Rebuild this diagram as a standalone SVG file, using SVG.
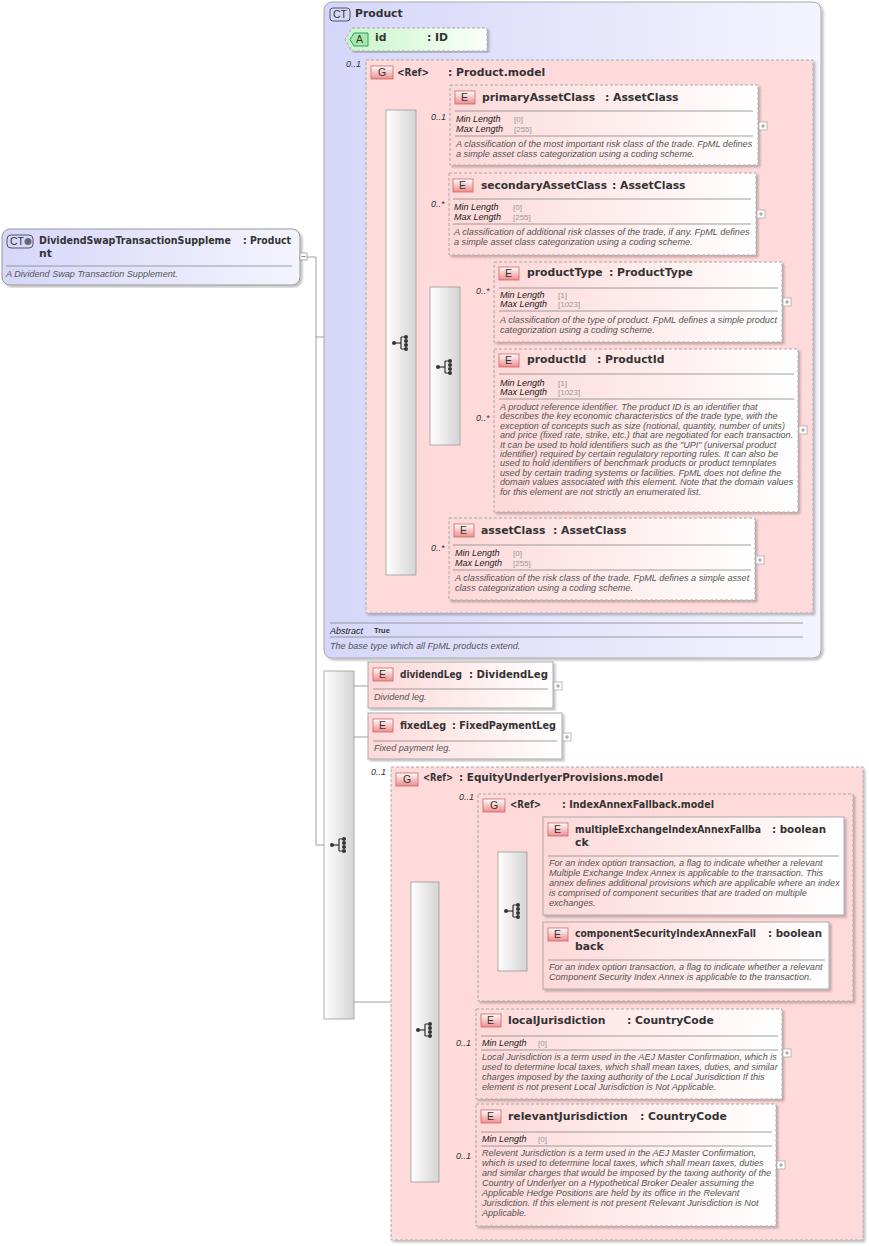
<svg xmlns="http://www.w3.org/2000/svg" width="869" height="1246" viewBox="0 0 869 1246">
<defs>
<linearGradient id="gE" x1="0" y1="0" x2="1" y2="0"><stop offset="0" stop-color="#fdd8d8"/><stop offset="1" stop-color="#fff"/></linearGradient>
<linearGradient id="gA" x1="0" y1="0" x2="1" y2="0"><stop offset="0" stop-color="#c8f5c8"/><stop offset="1" stop-color="#fafffa"/></linearGradient>
<linearGradient id="gCT" x1="0" y1="0" x2="1" y2="0"><stop offset="0" stop-color="#d6d6fa"/><stop offset="1" stop-color="#f4f4fe"/></linearGradient>
<linearGradient id="gS" x1="0" y1="0" x2="1" y2="0"><stop offset="0" stop-color="#fff"/><stop offset="1" stop-color="#d4d4d4"/></linearGradient>
<linearGradient id="gB" x1="0" y1="0" x2="0" y2="1"><stop offset="0" stop-color="#fff"/><stop offset="1" stop-color="#f08c8c"/></linearGradient>
<filter id="sh" x="-5%" y="-5%" width="110%" height="110%"><feDropShadow dx="2" dy="2" stdDeviation="1" flood-color="#000" flood-opacity="0.25"/></filter>
<g id="seqIcon"><line x1="-7" y1="0" x2="0" y2="0" stroke="#333" stroke-width="1.2"/><line x1="0" y1="-6" x2="0" y2="6" stroke="#333" stroke-width="1.2"/><line x1="0" y1="-6" x2="5" y2="-6" stroke="#333"/><line x1="0" y1="6" x2="5" y2="6" stroke="#333"/><circle cx="-7" cy="0" r="2" fill="#333"/><circle cx="5" cy="-6" r="2" fill="#333"/><circle cx="5" cy="-2" r="2" fill="#333"/><circle cx="5" cy="2" r="2" fill="#333"/><circle cx="5" cy="6" r="2" fill="#333"/></g>
<g id="plus"><rect x="0" y="-4" width="8" height="8" fill="#fff" stroke="#aaa" stroke-width="0.8"/><line x1="2" y1="0" x2="6" y2="0" stroke="#999"/><line x1="4" y1="-2" x2="4" y2="2" stroke="#999"/></g>
</defs>
<style>
text{font-family:"Liberation Sans",Arial,sans-serif;fill:#333}
.t{font-family:"DejaVu Sans",Verdana,sans-serif;font-size:10.8px;font-weight:bold}
.d{font-size:9.1px;font-style:italic;fill:#555}
.k{font-size:9px;font-style:italic;fill:#222}
.v{font-size:8px;fill:#999}
.m{font-size:9px;font-style:italic;fill:#333}
.b{font-size:10.5px;fill:#333}
.el{fill:url(#gE);stroke:#aaa;stroke-dasharray:3,2;filter:url(#sh)}
.els{fill:url(#gE);stroke:#aaa;filter:url(#sh)}
.grp{fill:#ffdada;stroke:#aaa;stroke-dasharray:3,2;filter:url(#sh)}
.seq{fill:url(#gS);stroke:#999;stroke-width:0.8}
.sep{stroke:#888;stroke-width:0.8}
.bdg{fill:url(#gB);stroke:#c66;stroke-width:0.8}
.c{stroke:#888;stroke-width:0.8;fill:none}
</style>

<g id="connectors">
<path class="c" d="M307 257H316V845H324"/>
<path class="c" d="M316 337H386M334 337V40H345"/>
<path class="c" d="M416 126H450M416 214H449M416 367H430M416 560H449"/>
<path class="c" d="M460 302H494M460 430H494"/>
<path class="c" d="M354 686H368M354 737H368M354 1002H411"/>
<path class="c" d="M439 898H498M527 867H543M527 956H543"/>
<path class="c" d="M439 1053H476M439 1168H476"/>
</g>

<g id="main">
<rect x="2" y="229" width="298" height="56" rx="8" fill="url(#gCT)" stroke="#999" filter="url(#sh)"/>
<rect x="7" y="235" width="26" height="13" rx="4" fill="#d8d8f8" stroke="#556"/>
<text x="10" y="245" class="b">CT</text><circle cx="28" cy="241.5" r="3.5" fill="#667"/>
<text x="39" y="244" class="t" textLength="192" lengthAdjust="spacingAndGlyphs">DividendSwapTransactionSuppleme</text>
<text x="243" y="244" class="t" textLength="48" lengthAdjust="spacingAndGlyphs">: Product</text>
<text x="39" y="257" class="t">nt</text>
<line x1="6" y1="266" x2="292" y2="266" class="sep"/>
<text x="6" y="277" class="d">A Dividend Swap Transaction Supplement.</text>
<rect x="300" y="253" width="7" height="7" fill="#fff" stroke="#999" stroke-width="0.8"/><line x1="301.5" y1="256.5" x2="305.5" y2="256.5" stroke="#888"/>
</g>

<g id="product">
<rect x="324" y="2" width="497" height="656" rx="8" fill="url(#gCT)" stroke="#aaa" filter="url(#sh)"/>
<rect x="330" y="8" width="20" height="13" rx="3" fill="#d8d8f8" stroke="#556"/>
<text x="333" y="18" class="b">CT</text>
<text x="355" y="17" class="t">Product</text>
<line x1="330" y1="623" x2="803" y2="623" class="sep"/>
<text x="330" y="634" class="k">Abstract</text><text x="374" y="633" style="font-size:7.5px;font-weight:bold">True</text>
<line x1="330" y1="637" x2="803" y2="637" class="sep"/>
<text x="330" y="649" class="d">The base type which all FpML products extend.</text>
</g>

<g id="attr-id">
<path d="M352 28H487V51H352L345 39.5Z" fill="url(#gA)" stroke="#aaa" stroke-dasharray="3,2" filter="url(#sh)"/>
<path d="M354 33H368V46H354L350 39.5Z" fill="#a8e8a8" stroke="#396"/>
<text x="356" y="43" class="b">A</text>
<text x="375" y="41" class="t">id</text><text x="427" y="41" class="t">: ID</text>
</g>

<text x="346" y="67" class="m">0..1</text>
<g id="product-model">
<rect x="366" y="60" width="447" height="553" class="grp"/>
<rect x="371" y="66" width="22" height="13" class="bdg"/><text x="378" y="76" class="b">G</text>
<text x="397" y="76" class="t" textLength="32" lengthAdjust="spacingAndGlyphs">&lt;Ref&gt;</text><text x="448" y="76" class="t">: Product.model</text>
</g>

<g id="seq1"><rect x="386" y="110" width="30" height="465" class="seq"/><use href="#seqIcon" x="401" y="343"/></g>
<g id="seq2"><rect x="430" y="287" width="30" height="158" class="seq"/><use href="#seqIcon" x="445" y="367"/></g>

<text x="431" y="120" class="m">0..1</text>
<g id="primaryAssetClass">
<rect x="450" y="85" width="308" height="80" class="el"/>
<rect x="455" y="91" width="20" height="13" class="bdg"/><text x="461" y="101" class="b">E</text>
<text x="482" y="101" class="t">primaryAssetClass</text><text x="605" y="101" class="t">: AssetClass</text>
<line x1="455" y1="111" x2="753" y2="111" class="sep"/>
<text x="456" y="122" class="k">Min Length</text><text x="514" y="122" class="v">[0]</text>
<text x="456" y="132" class="k">Max Length</text><text x="514" y="132" class="v">[255]</text>
<line x1="455" y1="136" x2="753" y2="136" class="sep"/>
<text x="456" y="147" class="d">A classification of the most important risk class of the trade. FpML defines</text>
<text x="456" y="157" class="d">a simple asset class categorization using a coding scheme.</text>
<use href="#plus" x="759" y="126"/>
</g>

<text x="431" y="207" class="m">0..*</text>
<g id="secondaryAssetClass">
<rect x="449" y="173" width="307" height="82" class="el"/>
<rect x="453" y="179" width="20" height="13" class="bdg"/><text x="459" y="189" class="b">E</text>
<text x="481" y="189" class="t" textLength="126" lengthAdjust="spacingAndGlyphs">secondaryAssetClass</text><text x="612" y="189" class="t">: AssetClass</text>
<line x1="453" y1="199" x2="751" y2="199" class="sep"/>
<text x="454" y="210" class="k">Min Length</text><text x="513" y="210" class="v">[0]</text>
<text x="454" y="220" class="k">Max Length</text><text x="513" y="220" class="v">[255]</text>
<line x1="453" y1="224" x2="751" y2="224" class="sep"/>
<text x="454" y="235" class="d">A classification of additional risk classes of the trade, if any. FpML defines</text>
<text x="454" y="245" class="d">a simple asset class categorization using a coding scheme.</text>
<use href="#plus" x="757" y="214"/>
</g>

<text x="476" y="294" class="m">0..*</text>
<g id="productType">
<rect x="494" y="262" width="288" height="80" class="el"/>
<rect x="499" y="267" width="20" height="13" class="bdg"/><text x="505" y="277" class="b">E</text>
<text x="527" y="276" class="t">productType</text><text x="609" y="276" class="t">: ProductType</text>
<line x1="499" y1="288" x2="778" y2="288" class="sep"/>
<text x="500" y="298" class="k">Min Length</text><text x="558" y="298" class="v">[1]</text>
<text x="500" y="307" class="k">Max Length</text><text x="558" y="307" class="v">[1023]</text>
<line x1="499" y1="311" x2="778" y2="311" class="sep"/>
<text x="500" y="323" class="d">A classification of the type of product. FpML defines a simple product</text>
<text x="500" y="333" class="d">categorization using a coding scheme.</text>
<use href="#plus" x="783" y="302"/>
</g>

<text x="476" y="421" class="m">0..*</text>
<g id="productId">
<rect x="494" y="349" width="304" height="163" class="el"/>
<rect x="499" y="354" width="20" height="13" class="bdg"/><text x="505" y="364" class="b">E</text>
<text x="527" y="363" class="t">productId</text><text x="597" y="363" class="t">: ProductId</text>
<line x1="499" y1="374" x2="794" y2="374" class="sep"/>
<text x="500" y="386" class="k">Min Length</text><text x="558" y="386" class="v">[1]</text>
<text x="500" y="395" class="k">Max Length</text><text x="558" y="395" class="v">[1023]</text>
<line x1="499" y1="399" x2="794" y2="399" class="sep"/>
<text class="d"><tspan x="500" y="410">A product reference identifier. The product ID is an identifier that</tspan><tspan x="500" y="419.4">describes the key economic characteristics of the trade type, with the</tspan><tspan x="500" y="428.8">exception of concepts such as size (notional, quantity, number of units)</tspan><tspan x="500" y="438.2">and price (fixed rate, strike, etc.) that are negotiated for each transaction.</tspan><tspan x="500" y="447.6">It can be used to hold identifiers such as the "UPI" (universal product</tspan><tspan x="500" y="457">identifier) required by certain regulatory reporting rules. It can also be</tspan><tspan x="500" y="466.4">used to hold identifiers of benchmark products or product temnplates</tspan><tspan x="500" y="475.8">used by certain trading systems or facilities. FpML does not define the</tspan><tspan x="500" y="485.2">domain values associated with this element. Note that the domain values</tspan><tspan x="500" y="494.6">for this element are not strictly an enumerated list.</tspan></text>
<use href="#plus" x="799" y="430"/>
</g>

<text x="431" y="551" class="m">0..*</text>
<g id="assetClass">
<rect x="449" y="518" width="306" height="82" class="el"/>
<rect x="454" y="524" width="20" height="13" class="bdg"/><text x="460" y="534" class="b">E</text>
<text x="481" y="534" class="t">assetClass</text><text x="553" y="534" class="t">: AssetClass</text>
<line x1="453" y1="545" x2="751" y2="545" class="sep"/>
<text x="455" y="556" class="k">Min Length</text><text x="513" y="556" class="v">[0]</text>
<text x="455" y="566" class="k">Max Length</text><text x="513" y="566" class="v">[255]</text>
<line x1="453" y1="570" x2="751" y2="570" class="sep"/>
<text x="455" y="581" class="d">A classification of the risk class of the trade. FpML defines a simple asset</text>
<text x="455" y="591" class="d">class categorization using a coding scheme.</text>
<use href="#plus" x="756" y="560"/>
</g>

<g id="seq3"><rect x="324" y="671" width="30" height="348" class="seq"/><use href="#seqIcon" x="339" y="845"/></g>

<g id="dividendLeg">
<rect x="368" y="662" width="185" height="46" class="els"/>
<rect x="373" y="668" width="20" height="13" class="bdg"/><text x="379" y="678" class="b">E</text>
<text x="400" y="678" class="t" textLength="62" lengthAdjust="spacingAndGlyphs">dividendLeg</text><text x="469" y="678" class="t" textLength="79" lengthAdjust="spacingAndGlyphs">: DividendLeg</text>
<line x1="373" y1="689" x2="548" y2="689" class="sep"/>
<text x="374" y="700" class="d">Dividend leg.</text>
<use href="#plus" x="554" y="686"/>
</g>

<g id="fixedLeg">
<rect x="368" y="713" width="194" height="46" class="els"/>
<rect x="373" y="719" width="20" height="13" class="bdg"/><text x="379" y="729" class="b">E</text>
<text x="400" y="729" class="t" textLength="46" lengthAdjust="spacingAndGlyphs">fixedLeg</text><text x="452" y="729" class="t" textLength="104" lengthAdjust="spacingAndGlyphs">: FixedPaymentLeg</text>
<line x1="373" y1="741" x2="557" y2="741" class="sep"/>
<text x="374" y="751" class="d">Fixed payment leg.</text>
<use href="#plus" x="563" y="737"/>
</g>

<text x="371" y="775" class="m">0..1</text>
<g id="equity-model">
<rect x="391" y="767" width="472" height="473" class="grp"/>
<rect x="396" y="773" width="22" height="13" class="bdg"/><text x="403" y="783" class="b">G</text>
<text x="423" y="781" class="t" textLength="30" lengthAdjust="spacingAndGlyphs">&lt;Ref&gt;</text><text x="459" y="781" class="t" textLength="204" lengthAdjust="spacingAndGlyphs">: EquityUnderlyerProvisions.model</text>
</g>

<g id="seq4"><rect x="411" y="882" width="28" height="300" class="seq"/><use href="#seqIcon" x="425" y="1030"/></g>

<text x="459" y="800" class="m">0..1</text>
<g id="indexannex-model">
<rect x="478" y="794" width="375" height="207" class="grp"/>
<rect x="483" y="799" width="22" height="13" class="bdg"/><text x="490" y="809" class="b">G</text>
<text x="510" y="808" class="t" textLength="31" lengthAdjust="spacingAndGlyphs">&lt;Ref&gt;</text><text x="562" y="808" class="t" textLength="152" lengthAdjust="spacingAndGlyphs">: IndexAnnexFallback.model</text>
</g>

<g id="seq5"><rect x="498" y="852" width="29" height="119" class="seq"/><use href="#seqIcon" x="513" y="911"/></g>

<g id="multipleExchange">
<rect x="543" y="817" width="301" height="98" class="els"/>
<rect x="548" y="823" width="20" height="13" class="bdg"/><text x="554" y="833" class="b">E</text>
<text x="575" y="833" class="t" textLength="186" lengthAdjust="spacingAndGlyphs">multipleExchangeIndexAnnexFallba</text><text x="772" y="833" class="t" textLength="54" lengthAdjust="spacingAndGlyphs">: boolean</text>
<text x="575" y="846" class="t">ck</text>
<line x1="548" y1="856" x2="839" y2="856" class="sep"/>
<text class="d"><tspan x="549" y="866">For an index option transaction, a flag to indicate whether a relevant</tspan><tspan x="549" y="876">Multiple Exchange Index Annex is applicable to the transaction. This</tspan><tspan x="549" y="886">annex defines additional provisions which are applicable where an index</tspan><tspan x="549" y="896">is comprised of component securities that are traded on multiple</tspan><tspan x="549" y="906">exchanges.</tspan></text>
</g>

<g id="componentSecurity">
<rect x="543" y="922" width="286" height="67" class="els"/>
<rect x="548" y="928" width="20" height="13" class="bdg"/><text x="554" y="938" class="b">E</text>
<text x="575" y="937" class="t" textLength="181" lengthAdjust="spacingAndGlyphs">componentSecurityIndexAnnexFall</text><text x="768" y="937" class="t" textLength="54" lengthAdjust="spacingAndGlyphs">: boolean</text>
<text x="575" y="950" class="t">back</text>
<line x1="548" y1="960" x2="825" y2="960" class="sep"/>
<text x="549" y="970" class="d">For an index option transaction, a flag to indicate whether a relevant</text>
<text x="549" y="980" class="d">Component Security Index Annex is applicable to the transaction.</text>
</g>

<text x="456" y="1046" class="m">0..1</text>
<g id="localJurisdiction">
<rect x="476" y="1009" width="306" height="90" class="el"/>
<rect x="481" y="1014" width="20" height="13" class="bdg"/><text x="487" y="1024" class="b">E</text>
<text x="508" y="1024" class="t">localJurisdiction</text><text x="627" y="1024" class="t">: CountryCode</text>
<line x1="481" y1="1036" x2="778" y2="1036" class="sep"/>
<text x="482" y="1046" class="k">Min Length</text><text x="538" y="1046" class="v">[0]</text>
<line x1="481" y1="1050" x2="778" y2="1050" class="sep"/>
<text class="d"><tspan x="482" y="1060">Local Jurisdiction is a term used in the AEJ Master Confirmation, which is</tspan><tspan x="482" y="1070">used to determine local taxes, which shall mean taxes, duties, and similar</tspan><tspan x="482" y="1080">charges imposed by the taxing authority of the Local Jurisdiction If this</tspan><tspan x="482" y="1090">element is not present Local Jurisdiction is Not Applicable.</tspan></text>
<use href="#plus" x="783" y="1053"/>
</g>

<text x="456" y="1159" class="m">0..1</text>
<g id="relevantJurisdiction">
<rect x="476" y="1104" width="300" height="122" class="el"/>
<rect x="481" y="1110" width="20" height="13" class="bdg"/><text x="487" y="1120" class="b">E</text>
<text x="508" y="1120" class="t">relevantJurisdiction</text><text x="640" y="1120" class="t">: CountryCode</text>
<line x1="481" y1="1132" x2="772" y2="1132" class="sep"/>
<text x="482" y="1142" class="k">Min Length</text><text x="538" y="1142" class="v">[0]</text>
<line x1="481" y1="1146" x2="772" y2="1146" class="sep"/>
<text class="d"><tspan x="482" y="1156">Relevent Jurisdiction is a term used in the AEJ Master Confirmation,</tspan><tspan x="482" y="1166">which is used to determine local taxes, which shall mean taxes, duties</tspan><tspan x="482" y="1176">and similar charges that would be imposed by the taxing authority of the</tspan><tspan x="482" y="1186">Country of Underlyer on a Hypothetical Broker Dealer assuming the</tspan><tspan x="482" y="1196">Applicable Hedge Positions are held by its office in the Relevant</tspan><tspan x="482" y="1206">Jurisdiction. If this element is not present Relevant Jurisdiction is Not</tspan><tspan x="482" y="1216">Applicable.</tspan></text>
<use href="#plus" x="777" y="1165"/>
</g>
</svg>
